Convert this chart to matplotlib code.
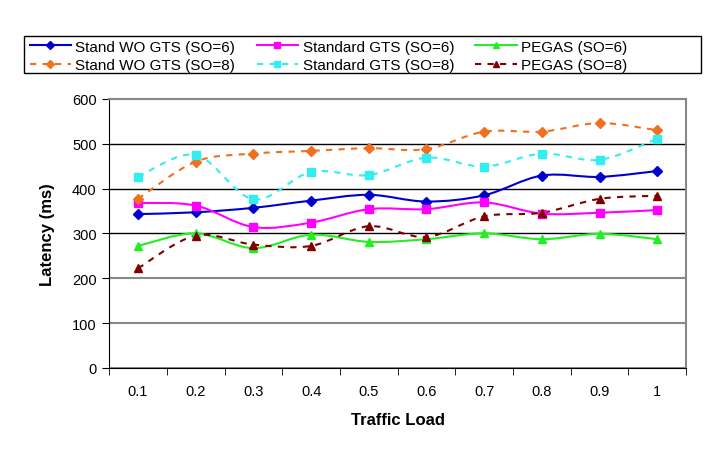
import numpy as np
import matplotlib.pyplot as plt
from matplotlib.path import Path
from matplotlib.patches import PathPatch, Rectangle
from matplotlib.lines import Line2D

plt.rcParams['font.family'] = ['Liberation Sans', 'DejaVu Sans']

loads = ['0.1', '0.2', '0.3', '0.4', '0.5', '0.6', '0.7', '0.8', '0.9', '1']
stand_wo_6 = [343, 347, 357, 373, 386, 371, 385, 429, 426, 439]
standard_6 = [368, 362, 314, 324, 354, 354, 369, 344, 346, 352]
pegas_6 = [272, 300, 267, 297, 281, 287, 300, 287, 299, 287]
stand_wo_8 = [377, 460, 478, 484, 490, 488, 527, 527, 546, 530]
standard_8 = [426, 475, 376, 437, 430, 469, 449, 478, 464, 511]
pegas_8 = [222, 295, 275, 272, 316, 292, 338, 346, 377, 384]


def smooth_path(x, y):
    """ Bezier path through the points, like Excel's smoothed line """
    pts = np.column_stack([x, y]).astype(float)
    ext = np.vstack([pts[0], pts, pts[-1]])
    verts = [pts[0]]
    codes = [Path.MOVETO]
    for i in range(len(pts) - 1):
        p0, p1, p2, p3 = ext[i], ext[i + 1], ext[i + 2], ext[i + 3]
        verts += [p1 + (p2 - p0) / 6, p2 - (p3 - p1) / 6, p2]
        codes += [Path.CURVE4] * 3
    return Path(verts, codes)


series = [
    ('Stand WO GTS (SO=6)', stand_wo_6, '#0000CC', '-', 'D', 5),
    ('Standard GTS (SO=6)', standard_6, '#FF00FF', '-', 's', 6),
    ('PEGAS (SO=6)', pegas_6, '#22EE22', '-', '^', 6),
    ('Stand WO GTS (SO=8)', stand_wo_8, '#F07020', (0, (3, 3)), 'D', 5),
    ('Standard GTS (SO=8)', standard_8, '#33EEEE', (0, (3, 3)), 's', 6),
    ('PEGAS (SO=8)', pegas_8, '#800000', (0, (3, 3)), '^', 6),
]

fig = plt.figure(figsize=(7.23, 4.52), dpi=100)
ax = fig.add_axes([0.151, 0.184, 0.798, 0.595])
x = np.arange(len(loads))

handles = []
for label, vals, color, ls, mk, ms in series:
    ax.add_patch(PathPatch(smooth_path(x, vals), fill=False, edgecolor=color,
                           linestyle=ls, linewidth=1.5, zorder=3))
    ax.plot(x, vals, linestyle='none', marker=mk, markersize=ms, color=color, zorder=4)
    handles.append(Line2D([], [], color=color, linestyle=ls, linewidth=1.5,
                          marker=mk, markersize=ms - 1, label=label))

ax.set_xlim(-0.5, len(loads) - 0.5)
ax.set_ylim(0, 600)
ax.set_yticks(np.arange(0, 601, 100))
ax.set_xticks(x)
ax.set_xticklabels(loads)
ax.set_xticks(np.arange(-0.5, len(loads), 1), minor=True)
ax.tick_params(axis='x', which='major', length=0, pad=12, labelsize=10.5)
ax.tick_params(axis='x', which='minor', length=5, direction='out', color='black')
ax.tick_params(axis='y', length=5, direction='out', labelsize=10.5, pad=4)

ax.yaxis.grid(True, linewidth=1.2, zorder=0)
for val, gl in zip(ax.get_yticks(), ax.get_ygridlines()):
    gl.set_color('black' if val in (300, 400, 500) else '#888888')
    gl.set_linewidth(1.0 if val in (300, 400, 500) else 1.5)

for side in ('top', 'right'):
    ax.spines[side].set_color('#888888')
    ax.spines[side].set_linewidth(1.5)
ax.spines['left'].set_color('black')
ax.spines['bottom'].set_color('black')

ax.set_xlabel('Traffic Load', fontsize=12, fontweight='bold', labelpad=10)
ax.set_ylabel('Latency (ms)', fontsize=12, fontweight='bold', labelpad=12)

# legend is row-major in the original: SO=6 on top, SO=8 below
order = [0, 3, 1, 4, 2, 5]
leg = fig.legend(handles=[handles[i] for i in order], loc='upper left',
                 bbox_to_anchor=(0.041, 0.910), ncol=3, fontsize=11,
                 frameon=False, borderpad=0, labelspacing=0.3,
                 handlelength=2.7, handletextpad=0.3, columnspacing=1.4,
                 borderaxespad=0)
# the legend box in the original is wider than its entries
fig.patches.append(Rectangle((0.033, 0.836), 0.937, 0.082, transform=fig.transFigure,
                             fill=False, edgecolor='black', linewidth=1.0))

fig.savefig('out.png', dpi=100)
